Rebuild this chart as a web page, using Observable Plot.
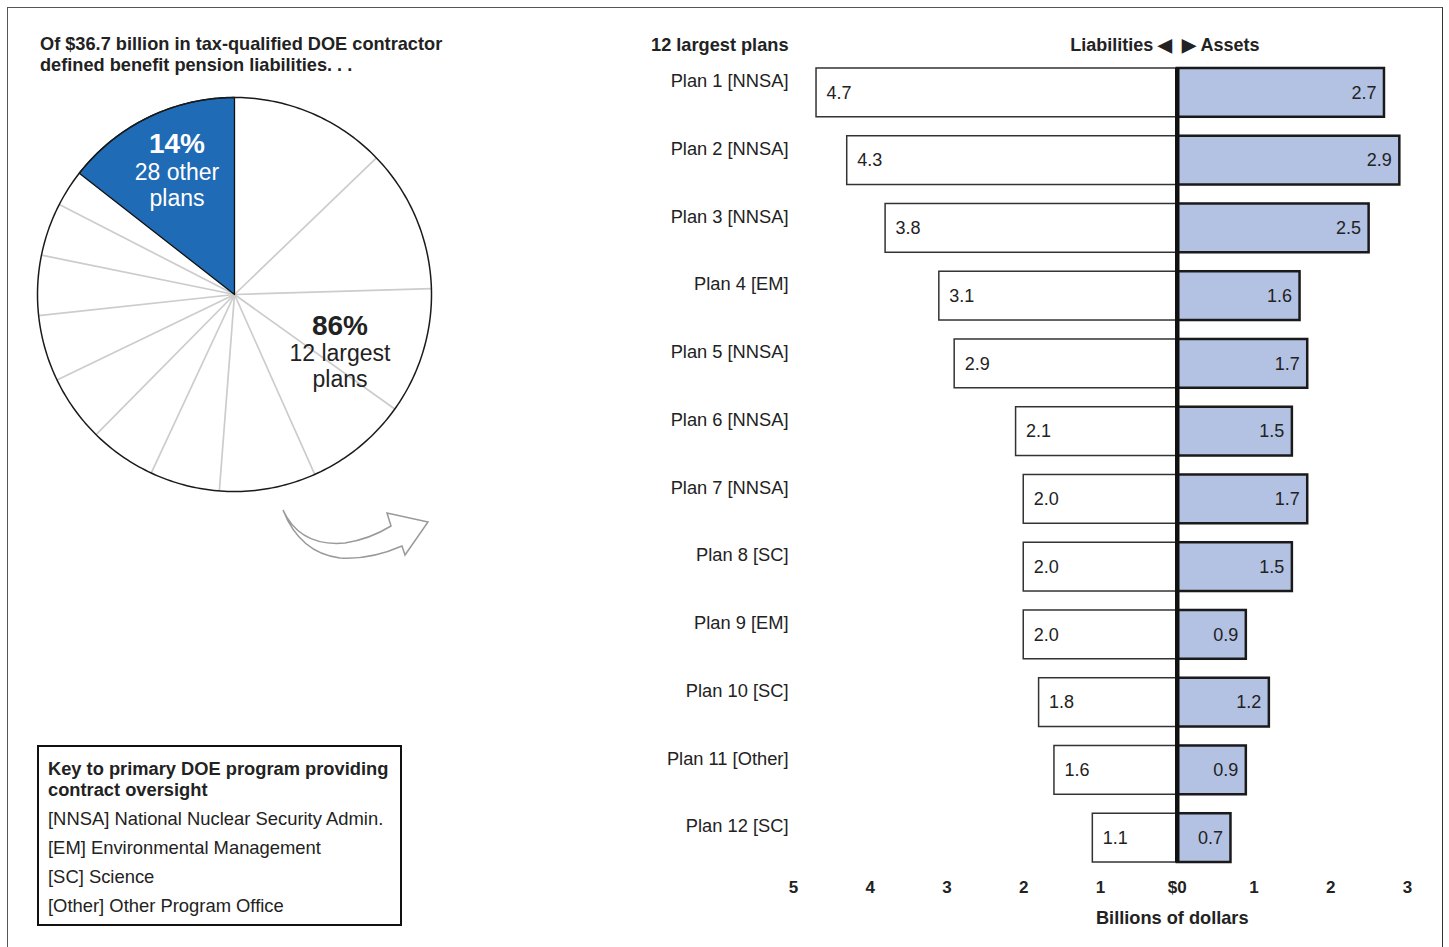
<!DOCTYPE html>
<html><head><meta charset="utf-8">
<script src="https://cdn.jsdelivr.net/npm/d3@7"></script>
<script src="https://cdn.jsdelivr.net/npm/@observablehq/plot@0.6"></script>
<style>
body{margin:0;background:#fff;font-family:"Liberation Sans",Arial,sans-serif;color:#222;}
#page{position:relative;width:1449px;height:947px;overflow:hidden;background:#fff;}
#frame{position:absolute;left:7px;top:7px;width:1434px;height:990px;border-left:1.5px solid #555;border-top:1.5px solid #555;border-right:1.5px solid #333;}
.abs{position:absolute;}
#title{left:40px;top:34px;font-weight:bold;font-size:18.2px;line-height:21px;color:#222;}
#pie{left:34px;top:94px;}
#bars{left:640px;top:0px;}
.lbl{position:absolute;transform:translate(-50%,-50%);text-align:center;white-space:nowrap;}
#key{left:37px;top:745px;width:361px;height:177px;border:2px solid #111;}
#key .kt{position:absolute;left:9px;top:11px;font-weight:bold;font-size:18.3px;line-height:21px;}
#key .ki{position:absolute;left:9px;font-size:18.4px;}
#arrow{left:270px;top:500px;}
</style></head><body>
<div id="page">
<div id="frame"></div>
<div id="title" class="abs">Of $36.7 billion in tax-qualified DOE contractor<br>defined benefit pension liabilities. . .</div>
<div id="pie" class="abs"></div>
<div class="lbl" style="left:177px;top:144px;font-weight:bold;font-size:28px;color:#fff;">14%</div>
<div class="lbl" style="left:177px;top:172px;font-size:23px;color:#fff;">28 other</div>
<div class="lbl" style="left:177px;top:198px;font-size:23px;color:#fff;">plans</div>
<div class="lbl" style="left:340px;top:326px;font-weight:bold;font-size:28px;color:#222;">86%</div>
<div class="lbl" style="left:340px;top:353px;font-size:23px;color:#222;">12 largest</div>
<div class="lbl" style="left:340px;top:379px;font-size:23px;color:#222;">plans</div>
<svg id="arrow" class="abs" width="170" height="70" viewBox="270 500 170 70">
<path d="M283,510 Q300,547 345,543 Q370,539 391,526 L387,513 L428,522 L405,555 L402,546 Q370,560 340,558 Q300,553 283,510 Z" fill="#fff" stroke="#9a9a9a" stroke-width="1.5"/>
</svg>
<div id="bars" class="abs"></div>
<div id="key" class="abs">
<div class="kt">Key to primary DOE program providing<br>contract oversight</div>
<div class="ki" style="top:61px">[NNSA] National Nuclear Security Admin.</div>
<div class="ki" style="top:90px">[EM] Environmental Management</div>
<div class="ki" style="top:119px">[SC] Science</div>
<div class="ki" style="top:148px">[Other] Other Program Office</div>
</div>
</div>
<script>
// ---- data ----
const plans = ["Plan 1 [NNSA]","Plan 2 [NNSA]","Plan 3 [NNSA]","Plan 4 [EM]","Plan 5 [NNSA]","Plan 6 [NNSA]","Plan 7 [NNSA]","Plan 8 [SC]","Plan 9 [EM]","Plan 10 [SC]","Plan 11 [Other]","Plan 12 [SC]"];
const liabilities = [4.7,4.3,3.8,3.1,2.9,2.1,2.0,2.0,2.0,1.8,1.6,1.1];
const assets = [2.7,2.9,2.5,1.6,1.7,1.5,1.7,1.5,0.9,1.2,0.9,0.7];
const totalLiabilities = 36.7;
const xTicks = [-5,-4,-3,-2,-1,0,1,2,3];

const rows = plans.map((p,i)=>({plan:p, liab:liabilities[i], asset:assets[i]}));

// ---- pie ----
const otherValue = totalLiabilities - d3.sum(liabilities);
const pieValues = [...liabilities, otherValue];
let cum = 0;
const wedges = pieValues.map((v,i)=>{
  const a0 = cum/totalLiabilities*2*Math.PI; cum += v;
  const a1 = cum/totalLiabilities*2*Math.PI;
  return {i, a0, a1, other: i===pieValues.length-1};
});
function wedgePts(w){
  const pts=[{x:0,y:0,k:w.i}];
  const n=Math.max(2,Math.ceil((w.a1-w.a0)/0.01));
  for(let j=0;j<=n;j++){const a=w.a0+(w.a1-w.a0)*j/n; pts.push({x:Math.sin(a),y:Math.cos(a),k:w.i});}
  return pts;
}
const planPts = wedges.filter(w=>!w.other).flatMap(wedgePts);
const otherPts = wedgePts(wedges[wedges.length-1]);
const circlePts = d3.range(0,361).map(d=>({x:Math.sin(d*Math.PI/180),y:Math.cos(d*Math.PI/180)}));
const innerBounds = wedges.slice(0,-2).map(w=>w.a1);

const pie = Plot.plot({
  width:400,height:400,margin:3,
  x:{domain:[-1,1],axis:null},y:{domain:[-1,1],axis:null},
  marks:[
    Plot.line(planPts,{x:"x",y:"y",z:"k",fill:"white",stroke:null,curve:"linear-closed"}),
    Plot.link(innerBounds,{x1:0,y1:0,x2:d=>Math.sin(d),y2:d=>Math.cos(d),stroke:"#cccccc",strokeWidth:1.7}),
    Plot.line(otherPts,{x:"x",y:"y",fill:"#1f6bb5",stroke:"#111",strokeWidth:1.3,curve:"linear-closed"}),
    Plot.line(circlePts,{x:"x",y:"y",stroke:"#1a1a1a",strokeWidth:1.5,curve:"linear-closed"})
  ]
});
document.getElementById("pie").append(pie);

// ---- bars ----
const fmt = d=>d.toFixed(1);
const bars = Plot.plot({
  width:800,height:940,
  marginLeft:153,marginRight:33,marginTop:58.5,marginBottom:68.5,
  style:{fontFamily:"Liberation Sans, Arial, sans-serif",color:"#222",background:"transparent"},
  x:{domain:[-5,3]},
  y:{domain:plans,paddingInner:0.28,paddingOuter:0.14,round:false},
  marks:[
    Plot.barX(rows,{x1:0,x2:d=>-d.liab,y:"plan",fill:"white",stroke:"#333",strokeWidth:1.5}),
    Plot.barX(rows,{x1:0,x2:"asset",y:"plan",fill:"#b3c1e3",stroke:"#1a1a1a",strokeWidth:2.5}),
    Plot.ruleX([0],{stroke:"#111",strokeWidth:4.5,insetTop:9.5,insetBottom:9.5}),
    Plot.text(rows,{x:d=>-d.liab,y:"plan",text:d=>fmt(d.liab),textAnchor:"start",dx:10,fontSize:18,fill:"#222"}),
    Plot.text(rows,{x:"asset",y:"plan",text:d=>fmt(d.asset),textAnchor:"end",dx:-8,fontSize:18,fill:"#222"}),
    Plot.axisY({tickSize:0,tickPadding:5,dy:-11.5,fontSize:18.3,label:null}),
    Plot.axisX({ticks:xTicks,tickSize:0,tickPadding:9,fontSize:17,fontWeight:"bold",label:null,tickFormat:d=>d===0?"$0":String(Math.abs(d))}),
    Plot.text(["Billions of dollars"],{x:0,frameAnchor:"bottom",lineAnchor:"middle",dy:46,dx:-5,fontSize:18.2,fontWeight:"bold"}),
    Plot.text(["Liabilities \u25C0"],{x:0,frameAnchor:"top",lineAnchor:"middle",textAnchor:"end",dx:-5,dy:-13.5,fontSize:18,fontWeight:"bold"}),
    Plot.text(["\u25B6 Assets"],{x:0,frameAnchor:"top",lineAnchor:"middle",textAnchor:"start",dx:5,dy:-13.5,fontSize:18,fontWeight:"bold"}),
    Plot.text(["12 largest plans"],{frameAnchor:"top-left",lineAnchor:"middle",textAnchor:"end",dx:-5,dy:-13.5,fontSize:18.2,fontWeight:"bold"})
  ]
});
document.getElementById("bars").append(bars);
</script>
</body></html>
